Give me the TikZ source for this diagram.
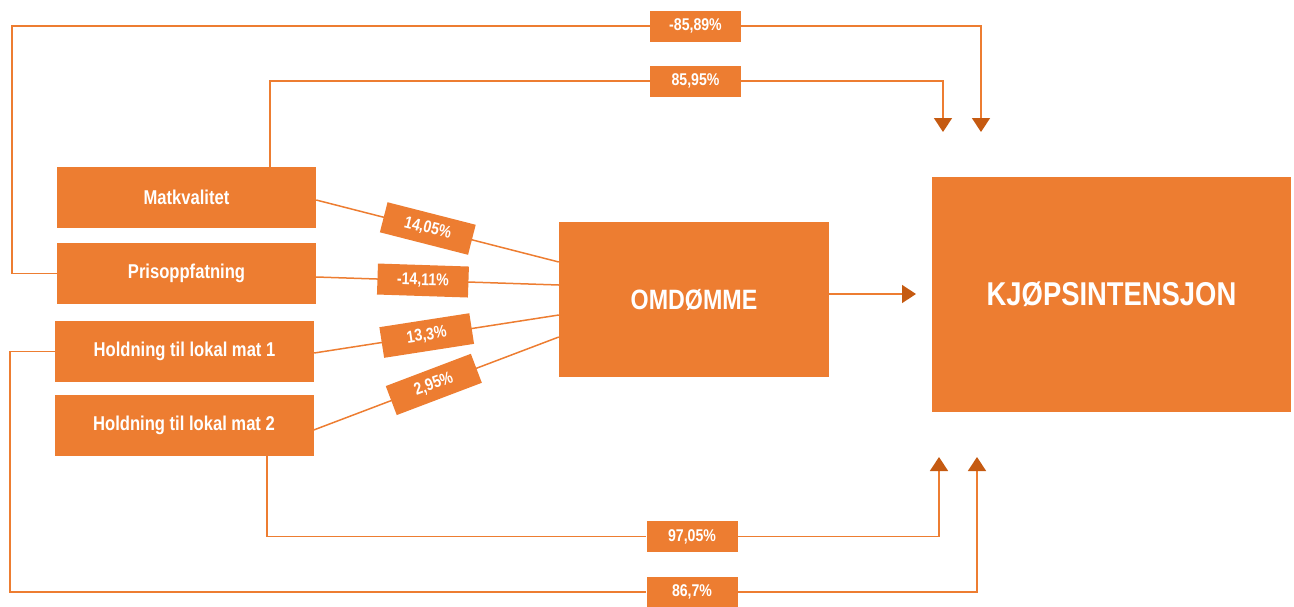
\documentclass[tikz,border=0pt]{standalone}
\usepackage{fontspec}
\setmainfont{Liberation Sans}[FakeStretch=0.83]
\usetikzlibrary{arrows.meta}
\definecolor{boxorange}{HTML}{ED7D31}
\definecolor{tiporange}{HTML}{C55A11}
\begin{document}
\begin{tikzpicture}[x=1pt,y=-1pt]
 \tikzset{factor/.style={fill=boxorange, text=white, inner sep=0pt, font=\bfseries\fontsize{20}{24}\selectfont, minimum width=259pt, minimum height=61pt},
  pct/.style={fill=boxorange, text=white, inner sep=0pt, font=\bfseries\fontsize{17}{20}\selectfont, minimum width=91pt, minimum height=31pt},
  link/.style={draw=boxorange, line width=1.5pt},
  directed/.style={link, -{Triangle[width=18pt,length=14pt,color=tiporange]}}}
  \useasboundingbox (0,0) rectangle (1294,606);
  \node[factor] (mat) at (186.5,197.5) {Matkvalitet};
  \node[factor] (pris) at (186.5,273.5) {Prisoppfatning};
  \node[factor] (hold1) at (184.5,351.5) {Holdning til lokal mat 1};
  \node[factor] (hold2) at (184,425.5) {Holdning til lokal mat 2};
  \node[factor, minimum width=270pt, minimum height=155pt, font=\bfseries\fontsize{28}{32}\selectfont] (omd) at (694,299.5) {OMDØMME};
  \node[factor, minimum width=359pt, minimum height=235pt, font=\bfseries\fontsize{33}{38}\selectfont] (kjop) at (1111.5,294.5) {KJØPSINTENSJON};
  % labels on the outer paths
  \node[pct] (pA) at (695.5,26) {-85,89\%};
  \node[pct] (pB) at (695.5,81) {85,95\%};
  \node[pct] (pC) at (692,536.5) {97,05\%};
  \node[pct] (pD) at (692,592) {86,7\%};
  \coordinate (tA) at (981,132);
  \coordinate (tB) at (943,132);
  \coordinate (tC) at (939,457);
  \coordinate (tD) at (977,457);
  \coordinate (tE) at (916,294);
  \draw[link] ([yshift=-2.5pt]mat.east) -- node[pct, sloped, pos=0.46] {14,05\%} ([yshift=37.5pt]omd.west);
  \draw[link] ([yshift=-3.5pt]pris.east) -- node[pct, sloped, pos=0.44] {-14,11\%} ([yshift=14.5pt]omd.west);
  \draw[link] ([yshift=-1.5pt]hold1.east) -- node[pct, sloped, pos=0.46] {13,3\%} ([yshift=-15.5pt]omd.west);
  \draw[link] ([yshift=-4.5pt]hold2.east) -- node[pct, sloped, pos=0.49] {2,95\%} ([yshift=-37.5pt]omd.west);
  \draw[directed] (omd.east |- tE) -- (tE);
  \draw[directed] (pris.west) -- ++(-45,0) |- (pA) -| (tA);
  \draw[directed] ([xshift=83.5pt]mat.north) |- (pB) -| (tB);
  \draw[directed] ([xshift=83pt]hold2.south) |- (pC) -| (tC);
  \draw[directed] (hold1.west) -- ++(-45,0) |- (pD) -| (tD);
\end{tikzpicture}
\end{document}
